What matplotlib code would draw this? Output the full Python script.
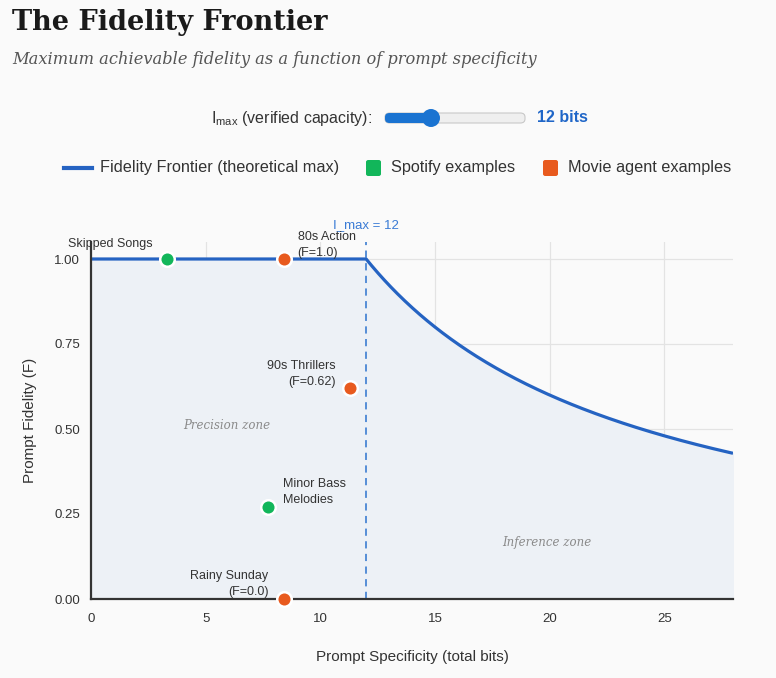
import numpy as np
import matplotlib
matplotlib.use("Agg")
import matplotlib.pyplot as plt
from matplotlib.patches import FancyBboxPatch, Circle
from matplotlib.lines import Line2D

plt.rcParams['font.family'] = ['Liberation Sans', 'DejaVu Sans']
plt.rcParams['mathtext.fontset'] = 'custom'
plt.rcParams['mathtext.rm'] = 'Liberation Sans'

# data
i_max = 12
x_max = 28
spotify_names = ['Skipped Songs', 'Minor Bass\nMelodies']
spotify_x = [3.3, 7.7]
spotify_f = [1.0, 0.27]
movie_names = ['80s Action\n(F=1.0)', '90s Thrillers\n(F=0.62)', 'Rainy Sunday\n(F=0.0)']
movie_x = [8.4, 11.3, 8.4]
movie_f = [1.0, 0.62, 0.0]

BLUE = '#2563c2'
GREEN = '#12b65a'
ORANGE = '#e85a1e'
BG = '#fafafa'

fig = plt.figure(figsize=(7.76, 6.78), dpi=100, facecolor=BG)
ax = fig.add_axes([91 / 776, 1 - 599 / 678, (733 - 91) / 776, (599 - 242) / 678])
ax.set_facecolor(BG)

xs = np.linspace(0, x_max, 600)
xs = np.sort(np.append(xs, i_max))
fs = np.where(xs <= i_max, 1.0, i_max / np.maximum(xs, 1e-9))
ax.fill_between(xs, 0, fs, color='#edf1f6', zorder=1)
ax.plot(xs, fs, color=BLUE, lw=2.3, zorder=3, solid_capstyle='butt')
ax.axvline(i_max, color='#4a86d4', lw=1.3, ls=(0, (4, 3)), zorder=2)

ax.scatter(spotify_x, spotify_f, s=110, color=GREEN, edgecolor='white', linewidth=1.8, zorder=5, clip_on=False)
ax.scatter(movie_x, movie_f, s=110, color=ORANGE, edgecolor='white', linewidth=1.8, zorder=5, clip_on=False)

# point labels (offsets in pixels)
offsets = {
    'Skipped Songs': (-14, 15, 'right'),
    'Minor Bass\nMelodies': (15, 15, 'left'),
    '80s Action\n(F=1.0)': (14, 14, 'left'),
    '90s Thrillers\n(F=0.62)': (-14, 14, 'right'),
    'Rainy Sunday\n(F=0.0)': (-15, 15, 'right'),
}
for names, px, pf in [(spotify_names, spotify_x, spotify_f), (movie_names, movie_x, movie_f)]:
    for n, xx, ff in zip(names, px, pf):
        dx, dy, ha = offsets[n]
        ax.annotate(n, (xx, ff), xytext=(dx * 0.72, dy * 0.72), textcoords='offset points',
                    ha=ha, va='center', fontsize=9, color='#333333', zorder=6,
                    linespacing=1.45, annotation_clip=False)

ax.text(i_max, 1.1, 'I_max = 12', color='#3a7bd5', fontsize=9.5, ha='center', va='center')
ax.text(5.9, 0.51, 'Precision zone', family='DejaVu Serif', style='italic', fontsize=8.5,
        color='#8a8a8a', ha='center', va='center')
ax.text(19.9, 0.165, 'Inference zone', family='DejaVu Serif', style='italic', fontsize=8.5,
        color='#8a8a8a', ha='center', va='center')

ax.set_xlim(0, x_max)
ax.set_ylim(0, 1.05)
ax.set_xticks([0, 5, 10, 15, 20, 25])
ax.set_yticks([0, 0.25, 0.5, 0.75, 1.0])
ax.set_yticklabels(['0.00', '0.25', '0.50', '0.75', '1.00'])
ax.grid(True, color='#e3e3e3', lw=0.9, zorder=0)
ax.set_axisbelow(True)
for s in ['top', 'right']:
    ax.spines[s].set_visible(False)
for s in ['left', 'bottom']:
    ax.spines[s].set_color('#333333')
    ax.spines[s].set_linewidth(1.6)
    ax.spines[s].set_zorder(4)
ax.tick_params(length=0, labelsize=9.5, colors='#333333')
ax.tick_params(axis='x', pad=10)
ax.tick_params(axis='y', pad=8)
ax.set_xlabel('Prompt Specificity (total bits)', fontsize=11, color='#333333', labelpad=18)
ax.set_ylabel('Prompt Fidelity (F)', fontsize=11, color='#333333', labelpad=12)

# title
fig.text(12 / 776, 1 - 22 / 678, 'The Fidelity Frontier', family='DejaVu Serif', weight='bold',
         fontsize=19.5, color='#1a1a1a', va='center')
fig.text(12 / 776, 1 - 59 / 678, 'Maximum achievable fidelity as a function of prompt specificity',
         family='DejaVu Serif', style='italic', fontsize=11.7, color='#555555', va='center')

# slider widget
W, H = 776, 678
fig.text(372 / W, 1 - 118 / H, r'I$_{\mathrm{max}}$ (verified capacity):', fontsize=11.5,
         color='#333333', ha='right', va='center')
track = FancyBboxPatch((385 / W, 1 - 123 / H), 140 / W, 10 / H,
                       boxstyle='round,pad=0,rounding_size=0.006', transform=fig.transFigure,
                       facecolor='#efefef', edgecolor='#c8c8c8', lw=0.8)
fig.patches.append(track)
fill = FancyBboxPatch((385 / W, 1 - 123 / H), 46 / W, 10 / H,
                      boxstyle='round,pad=0,rounding_size=0.006', transform=fig.transFigure,
                      facecolor='#1a73d1', edgecolor='none')
fig.patches.append(fill)
knob = Circle((431, H - 118), 9, transform=None, facecolor='#1a73d1', edgecolor='none')
fig.patches.append(knob)
fig.text(537 / W, 1 - 118 / H, '12 bits', fontsize=11.5, weight='bold', color='#1f66c8', va='center')

# legend row
ly = 1 - 168 / H
fig.lines.append(Line2D([64 / W, 92 / W], [ly, ly], transform=fig.transFigure, color=BLUE, lw=3))
fig.text(100 / W, ly, 'Fidelity Frontier (theoretical max)', fontsize=11.7, color='#333333', va='center')
for x0, c, t in [(366, GREEN, 'Spotify examples'), (543, ORANGE, 'Movie agent examples')]:
    sq = FancyBboxPatch((x0 / W, ly - 8 / H), 15 / W, 16 / H, boxstyle='round,pad=0,rounding_size=0.003',
                        transform=fig.transFigure, facecolor=c, edgecolor='none')
    fig.patches.append(sq)
    fig.text((x0 + 25) / W, ly, t, fontsize=11.7, color='#333333', va='center')

fig.savefig('out.png', dpi=100, facecolor=BG)
